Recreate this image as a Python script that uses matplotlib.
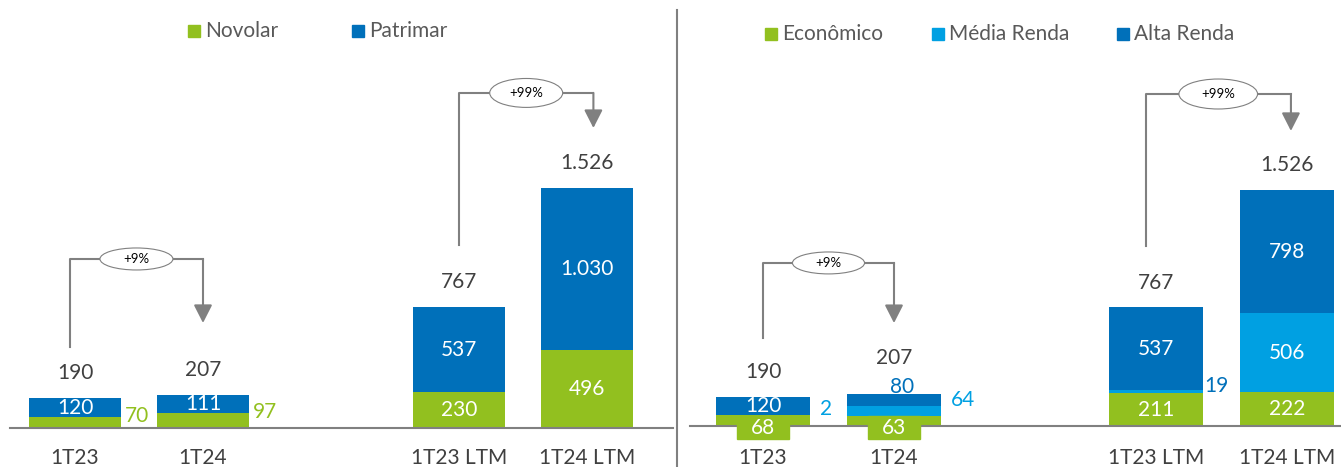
import matplotlib.pyplot as plt
from matplotlib.patches import Ellipse, Rectangle
from matplotlib.lines import Line2D

plt.rcParams['font.family'] = ['Lato', 'DejaVu Sans']

periods = ['1T23', '1T24', '1T23 LTM', '1T24 LTM']
positions = [0, 1, 3, 4]

# left panel: by brand
novolar = [70, 97, 230, 496]
patrimar = [120, 111, 537, 1030]

# right panel: by segment
economico = [68, 63, 211, 222]
media_renda = [2, 64, 19, 506]
alta_renda = [120, 80, 537, 798]

totals = [190, 207, 767, 1526]
growth = ['+9%', '+99%']

GREEN = '#92C01F'
DBLUE = '#0070BA'
LBLUE = '#00A0E2'
TXT = '#404040'
LINE = '#808080'
W, H = 1341, 467
BW = 0.72
FS = 15


def fmt(v):
    return f'{v:,}'.replace(',', '.')


fig = plt.figure(figsize=(W / 100, H / 100), dpi=100)
axL = fig.add_axes([0, 0, 677 / W, 1])
axR = fig.add_axes([677 / W, 0, 664 / W, 1])

axL.set_xlim(-75 / 128, (677 - 75) / 128)
axL.set_ylim(-39 * 6.36, 428 * 6.36)
axR.set_xlim((677 - 763) / 131, (1341 - 763) / 131)
axR.set_ylim(-41 * 6.47, 426 * 6.47)
for ax in (axL, axR):
    ax.axis('off')


def growth_arrow(ax, x0, x1, y0, ytop, ytip, label, ew, eh):
    ax.plot([x0, x0, x1], [y0, ytop, ytop], color=LINE, lw=1.5)
    ax.annotate('', xy=(x1, ytip), xytext=(x1, ytop),
                arrowprops=dict(arrowstyle='-|>,head_length=0.55,head_width=0.28',
                                mutation_scale=20, color=LINE, lw=1.5,
                                shrinkA=0, shrinkB=0))
    xm = (x0 + x1) / 2
    ax.add_patch(Ellipse((xm, ytop), ew, eh, facecolor='white',
                         edgecolor=LINE, lw=0.8, zorder=3))
    ax.text(xm, ytop, label, ha='center', va='center', fontsize=9.5,
            color='black', zorder=4)


def seg_label(ax, x, y, v, color='white'):
    ax.text(x, y, fmt(v), ha='center', va='center', fontsize=FS, color=color, zorder=5)


# ---- left panel ----
axL.bar(positions, novolar, BW, color=GREEN)
axL.bar(positions, patrimar, BW, bottom=novolar, color=DBLUE)
axL.axhline(0, 10 / 677, 673 / 677, color=LINE, lw=1.5)
for i, x in enumerate(positions):
    if novolar[i] > 150:
        seg_label(axL, x, novolar[i] / 2, novolar[i])
    else:
        axL.text(x + 0.39, novolar[i] + 5, fmt(novolar[i]), ha='left', va='center',
                 fontsize=FS, color=GREEN)
    seg_label(axL, x, novolar[i] + patrimar[i] / 2, patrimar[i])
    axL.text(x, totals[i] + 160, fmt(totals[i]), ha='center', va='center',
             fontsize=FS, color=TXT)
    axL.text(x, -191, periods[i], ha='center', va='center', fontsize=FS, color=TXT)

growth_arrow(axL, -0.04, 1.0, 515, 1075, 668, growth[0], 0.57, 140)
growth_arrow(axL, 3.0, 4.05, 1164, 2131, 1908, growth[1], 0.57, 184)

# ---- right panel ----
b2 = [e + m for e, m in zip(economico, media_renda)]
axR.bar(positions, economico, BW, color=GREEN)
axR.bar(positions, media_renda, BW, bottom=economico, color=LBLUE)
axR.bar(positions, alta_renda, BW, bottom=b2, color=DBLUE)
axR.axhline(0, 13 / 664, 1, color=LINE, lw=1.5)

for i, x in enumerate(positions):
    # economico
    if economico[i] > 150:
        seg_label(axR, x, economico[i] / 2, economico[i])
    else:
        axR.add_patch(Rectangle((x - 0.2, -84), 0.4, 149, color=GREEN, zorder=4))
        seg_label(axR, x, -10, economico[i])
    # media renda
    if media_renda[i] > 150:
        seg_label(axR, x, economico[i] + media_renda[i] / 2, media_renda[i])
    elif media_renda[i] < 10 or media_renda[i] > 50:
        axR.text(x + 0.435, b2[i] + 40, fmt(media_renda[i]), ha='left', va='center',
                 fontsize=FS, color=LBLUE)
    else:
        axR.text(x + 0.37, 259, fmt(media_renda[i]), ha='left', va='center',
                 fontsize=FS, color=DBLUE)
    # alta renda
    if alta_renda[i] > 100:
        seg_label(axR, x, b2[i] + alta_renda[i] / 2, alta_renda[i])
        off = 160
    else:
        axR.text(x + 0.06, totals[i] + 45, fmt(alta_renda[i]), ha='center', va='center',
                 fontsize=FS, color=DBLUE)
        off = 233
    axR.text(x, totals[i] + off, fmt(totals[i]), ha='center', va='center',
             fontsize=FS, color=TXT)
    axR.text(x, -207, periods[i], ha='center', va='center', fontsize=FS, color=TXT)

growth_arrow(axR, 0.0, 1.0, 569, 1055, 666, growth[0], 0.55, 142)
growth_arrow(axR, 2.92, 4.03, 1165, 2148, 1909, growth[1], 0.6, 194)

# divider
fig.add_artist(Line2D([677 / W, 677 / W], [1 - 10 / H, 0], transform=fig.transFigure,
                      color=LINE, lw=1.5))


def legend_item(px, py, color, text):
    fig.add_artist(Rectangle((px / W, 1 - (py + 6) / H), 12 / W, 12 / H,
                             transform=fig.transFigure, color=color))
    fig.text((px + 17) / W, 1 - py / H, text, ha='left', va='center',
             fontsize=15, color='#595959')


legend_item(188, 31, GREEN, 'Novolar')
legend_item(352, 31, DBLUE, 'Patrimar')
legend_item(765, 34, GREEN, 'Econômico')
legend_item(932, 34, LBLUE, 'Média Renda')
legend_item(1117, 34, DBLUE, 'Alta Renda')

fig.savefig('out.png', dpi=100)
